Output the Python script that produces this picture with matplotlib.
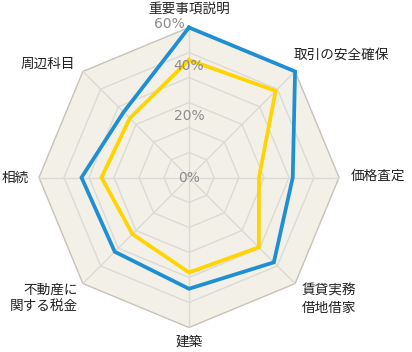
import numpy as np
import matplotlib
matplotlib.use("Agg")
import matplotlib.pyplot as plt

plt.rcParams['font.family'] = ['Noto Sans CJK JP', 'DejaVu Sans']

# categories clockwise from top
categories = ['重要事項説明', '取引の安全確保', '価格査定', '賃貸実務\n借地借家',
              '建築', '不動産に\n関する税金', '相続', '周辺科目']
blue_values = [60, 60, 41.5, 48, 44.5, 42, 43, 37]
yellow_values = [47, 49, 28, 39.5, 38, 32, 35, 33.5]
ring_levels = [10, 20, 30, 40, 50, 60]
pct_labels = ['0%', '20%', '40%', '60%']
pct_values = [0, 20, 40, 60]

n = len(categories)
theta = np.arange(n) * 2 * np.pi / n
theta_c = np.append(theta, theta[0])

fig = plt.figure(figsize=(4.12, 3.52), dpi=100)
ax = fig.add_axes([39 / 412, (352 - 177.5 - 150) / 352, 300 / 412, 300 / 352],
                  projection='polar')
ax.set_theta_zero_location('N')
ax.set_theta_direction(-1)
ax.set_ylim(0, 60)
ax.set_xticks([])
ax.set_yticks([])
ax.grid(False)
ax.spines['polar'].set_visible(False)
ax.patch.set_visible(False)

# octagon background and rings
ax.fill(theta_c, [60] * (n + 1), color='#f3f0e7', zorder=0, clip_on=False)
for lv in ring_levels:
    col = '#c8c4bb' if lv == 60 else '#dcdad6'
    ax.plot(theta_c, [lv] * (n + 1), color=col, lw=1.0, zorder=1, clip_on=False)
for t in theta:
    ax.plot([t, t], [0, 60], color='#dcdad6', lw=1.0, zorder=1)

# series
ax.plot(theta_c, np.append(yellow_values, yellow_values[0]), color='#ffd400',
        lw=2.7, zorder=3, solid_joinstyle='miter', clip_on=False)
ax.plot(theta_c, np.append(blue_values, blue_values[0]), color='#1e8fd5',
        lw=2.7, zorder=4, solid_joinstyle='miter', clip_on=False)

# percent labels on top axis
for lab, v in zip(pct_labels, pct_values):
    if v == 0:
        ax.text(0, 0, lab, ha='center', va='center', fontsize=10,
                color='#8c8c8c', family='DejaVu Sans', zorder=5)
    elif v == 60:
        fig.text(185 / 412, 1 - 24 / 352, lab, ha='right', va='center',
                 fontsize=10, color='#8c8c8c', family='DejaVu Sans')
    else:
        ax.text(0, v + 4.5, lab, ha='center', va='center', fontsize=10,
                color='#8c8c8c', family='DejaVu Sans', zorder=5)

# category labels (pixel positions)
label_pos = [(189, 8.5, 'center'), (341.5, 54.5, 'center'), (377.5, 176, 'center'),
             (301.5, 299, 'left'), (189.5, 341.5, 'center'), (77.5, 298.5, 'right'),
             (15, 178, 'center'), (47.5, 63.5, 'center')]
for lab, (px, py, ha) in zip(categories, label_pos):
    fig.text(px / 412, 1 - py / 352, lab, ha=ha, va='center', fontsize=9.8,
             color='#222222', linespacing=1.3, multialignment=ha)

fig.savefig('out.png', dpi=100, facecolor='white')
